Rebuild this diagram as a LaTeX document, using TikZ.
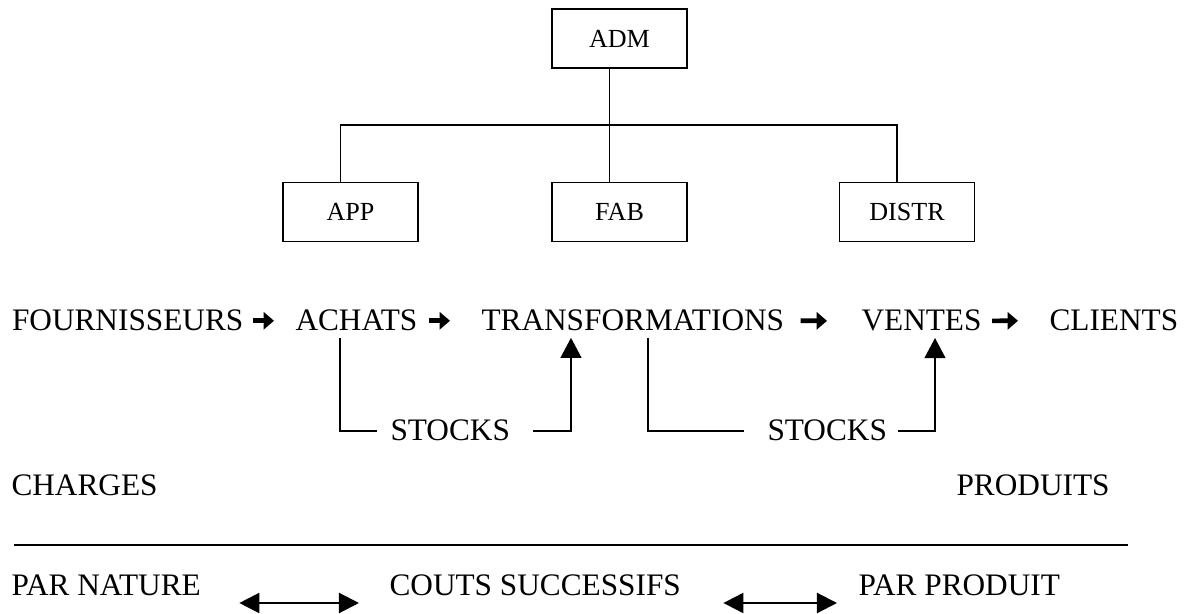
\documentclass[tikz,border=0pt]{standalone}
\usepackage{fontspec}
\setmainfont{Liberation Serif}
\usetikzlibrary{arrows.meta}

\tikzset{
  box/.style={draw, line width=0.6pt, minimum width=51.8pt, minimum height=22.6pt, inner sep=0, font=\fontsize{10}{12}\selectfont},
  word/.style={inner sep=0, anchor=base west, font=\fontsize{12}{14}\selectfont},
  trait/.style={line width=0.6pt},
  pfeil/.style={line width=1.8pt, -{Triangle[length=4pt,width=6.6pt]}},
  hoch/.style={line width=0.6pt, -{Triangle[length=7.7pt,width=8pt]}},
  doppel/.style={line width=0.8pt, {Triangle[length=7.7pt,width=7.7pt]}-{Triangle[length=7.7pt,width=7.7pt]}}
}

\begin{document}
\begin{tikzpicture}[x=0.3834pt, y=-0.3834pt]
    \useasboundingbox (0,0) rectangle (1185,614);

    % Organigramme
    \node[box] (adm) at (619.5,38.5) {ADM};
    \node[box] (app) at (350.5,212) {APP};
    \node[box] (fab) at (619.5,212) {FAB};
    \node[box] (distr) at (907,212) {DISTR};
    \coordinate (bar) at (609,125);
    \draw[trait] ([shift={(-10,0)}]adm.south) -- ([shift={(-10,0)}]fab.north);
    \draw[trait] ([shift={(-10,0)}]app.north) |- (bar) -| ([shift={(-10,0)}]distr.north);

    % Flux
    \node[word] (four) at (11.5,331) {FOURNISSEURS};
    \node[word] (achats) at (295,331) {ACHATS};
    \node[word] (transf) at (481,331) {TRANSFORMATIONS};
    \node[word] (ventes) at (861,331) {VENTES};
    \node[word] (clients) at (1049,331) {CLIENTS};
    \draw[pfeil] ([shift={(9,0)}]four.east) -- ([shift={(-21,0)}]achats.west);
    \draw[pfeil] ([shift={(11,0)}]achats.east) -- ([shift={(-31,0)}]transf.west);
    \draw[pfeil] ([shift={(16,0)}]transf.east) -- ([shift={(-34,0)}]ventes.west);
    \draw[pfeil] ([shift={(10,0)}]ventes.east) -- ([shift={(-31,0)}]clients.west);

    % Stocks
    \node[word] (stock1) at (390,441) {STOCKS};
    \node[word] (stock2) at (767,441) {STOCKS};
    \draw[trait] ([shift={(45,6)}]achats.south west) |- ([shift={(-13,0)}]stock1.west);
    \draw[hoch] ([shift={(23,0)}]stock1.east) -| ([shift={(90,6)}]transf.south west);
    \draw[trait] ([shift={(167,6)}]transf.south west) |- ([shift={(-23,0)}]stock2.west);
    \draw[hoch] ([shift={(10,0)}]stock2.east) -| ([shift={(74,6)}]ventes.south west);

    % Charges / produits
    \node[word] (charges) at (11,496) {CHARGES};
    \node[word] (produits) at (956,496) {PRODUITS};
    \draw[line width=1pt] (14,545) -- (1128,545);
    \node[word] (nature) at (11,595) {PAR NATURE};
    \node[word] (couts) at (389,595) {COUTS SUCCESSIFS};
    \node[word] (produit) at (858,595) {PAR PRODUIT};
    \draw[doppel] ([shift={(38,8)}]nature.base east) -- ([shift={(-30,8)}]couts.base west);
    \draw[doppel] ([shift={(42,8)}]couts.base east) -- ([shift={(-21,8)}]produit.base west);
\end{tikzpicture}
\end{document}
